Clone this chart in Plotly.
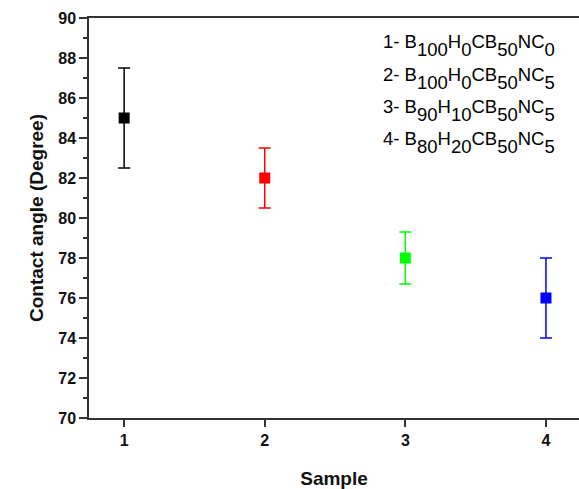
import plotly.graph_objects as go

samples = [1, 2, 3, 4]
contact_angle = [85.0, 82.0, 78.0, 76.0]
error = [2.5, 1.5, 1.3, 2.0]
colors = ["#000000", "#ff0000", "#00ff00", "#0000ff"]

legend_labels = [
    ("1- B", "100", "H", "0", "CB", "50", "NC", "0"),
    ("2- B", "100", "H", "0", "CB", "50", "NC", "5"),
    ("3- B", "90", "H", "10", "CB", "50", "NC", "5"),
    ("4- B", "80", "H", "20", "CB", "50", "NC", "5"),
]

FONT = "Liberation Sans, Arial, sans-serif"

fig = go.Figure()
for s, v, e, c in zip(samples, contact_angle, error, colors):
    fig.add_trace(go.Scatter(
        x=[s], y=[v], mode="markers",
        marker=dict(symbol="square", size=11, color=c),
        error_y=dict(type="data", array=[e], visible=True, color=c, thickness=1.5, width=6),
        showlegend=False,
    ))

def sub(t):
    return f'<span style="baseline-shift:-8px">{t}</span>'

W, H = 579, 489
ml, mr, mt, mb = 89, 0, 18, 71
ph = H - mt - mb
baselines = [45, 78, 110, 142]
for parts, py in zip(legend_labels, baselines):
    txt = ""
    for i, p in enumerate(parts):
        txt += sub(p) if i % 2 == 1 else p
    fig.add_annotation(
        x=(381 - ml) / (W - ml - mr), y=(H - mb - py) / ph,
        xref="paper", yref="paper", xanchor="left", yanchor="middle",
        text=txt, showarrow=False,
        font=dict(family=FONT, size=18.5, color="#000000"),
    )

axis_common = dict(
    showline=True, linecolor="#333333", linewidth=1.5,
    ticks="outside", tickcolor="#333333", tickwidth=1.5,
    showgrid=False, zeroline=False, automargin=False,
    tickfont=dict(family=FONT, size=16, color="#111111", weight="bold"),
)

fig.update_xaxes(
    **axis_common, range=[0.75, 4.235], tickvals=samples, ticklen=7,
    mirror=True,
    title=dict(text="Sample", font=dict(family=FONT, size=19, color="#111111", weight="bold"), standoff=24),
)
fig.update_yaxes(
    **axis_common, range=[70, 90], dtick=2, tick0=70, ticklen=8,
    minor=dict(ticks="outside", dtick=1, ticklen=4, tickcolor="#333333", tickwidth=1.5),
    title=dict(text="Contact angle (Degree)", font=dict(family=FONT, size=19, color="#111111", weight="bold"), standoff=10),
)

fig.update_layout(
    width=W, height=H,
    margin=dict(l=ml, r=mr, t=mt, b=mb),
    plot_bgcolor="white", paper_bgcolor="white",
    font=dict(family=FONT),
)

fig.write_html("out.html", config={"displayModeBar": False},
               post_script="document.body.style.margin='0';document.body.style.overflow='hidden';")
